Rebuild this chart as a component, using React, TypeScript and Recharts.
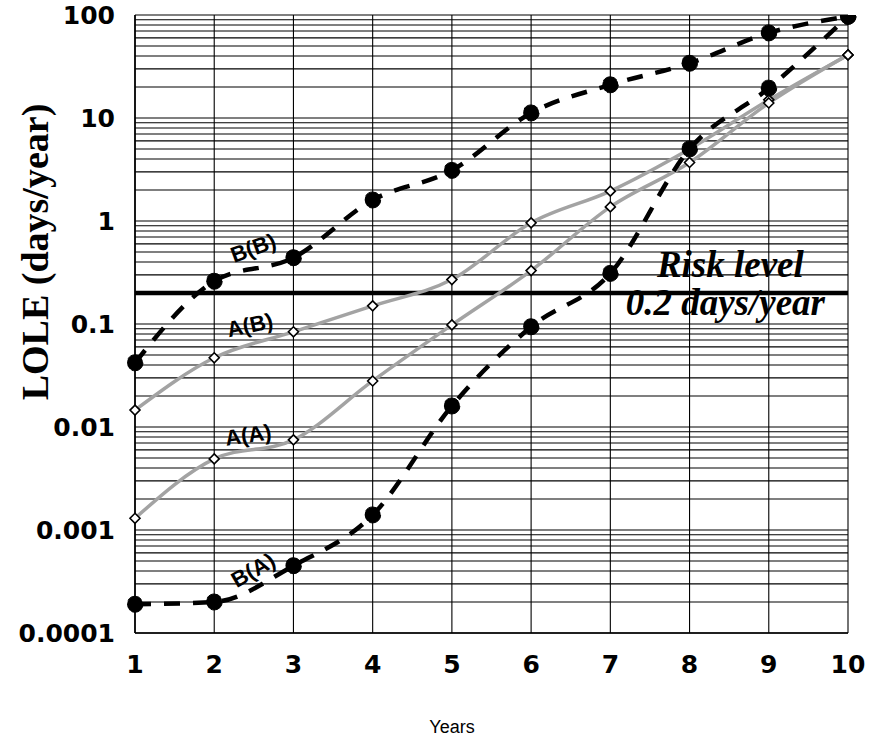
import React from 'react';
import {
  LineChart,
  Line,
  XAxis,
  YAxis,
  CartesianGrid,
  ReferenceLine,
  ReferenceDot,
} from 'recharts';

// years on the x axis
const years = [1, 2, 3, 4, 5, 6, 7, 8, 9, 10];

// LOLE (days/year) per scenario
const bbValues = [0.042, 0.26, 0.44, 1.6, 3.1, 11.2, 21, 34, 67, 97];
const baValues = [0.00019, 0.0002, 0.00045, 0.0014, 0.016, 0.094, 0.31, 5.0, 19.5, 97];
const abValues = [0.0146, 0.047, 0.084, 0.15, 0.27, 0.96, 1.95, 5.0, 15, 41];
const aaValues = [0.0013, 0.0049, 0.0075, 0.028, 0.098, 0.33, 1.37, 3.7, 14, 41];

const riskLevel = 0.2;

// log axis: labelled decades and minor grid multipliers
const decadeTicks = [0.0001, 0.001, 0.01, 0.1, 1, 10, 100];
const decadeLabels = ['0.0001', '0.001', '0.01', '0.1', '1', '10', '100'];
const minorSteps = [1, 2, 3, 4, 5, 6, 7, 8, 9];

const gridTicks = [
  ...decadeTicks.slice(0, -1).flatMap((d) => minorSteps.map((k) => k * d)),
  100,
];

// curve name labels: [name, year, value, angle]
const curveLabels: [string, number, number, number][] = [
  ['B(B)', 2.49, 0.55, -20],
  ['A(B)', 2.45, 0.098, -12],
  ['A(A)', 2.43, 0.0084, -8],
  ['B(A)', 2.49, 0.00041, -30],
];

const data = years.map((year, i) => ({
  year,
  bb: bbValues[i],
  ba: baValues[i],
  ab: abValues[i],
  aa: aaValues[i],
}));

const formatY = (v: number) => {
  const i = decadeTicks.findIndex((d) => Math.abs(Math.log10(v) - Math.log10(d)) < 1e-6);
  return i >= 0 ? decadeLabels[i] : '';
};

const Diamond = (props: any) => {
  const { cx, cy, index } = props;
  if (cx == null || cy == null) return <g key={`dd-${index}`} />;
  const s = 5;
  return (
    <path
      key={`d-${index}`}
      d={`M${cx},${cy - s}L${cx + s},${cy}L${cx},${cy + s}L${cx - s},${cy}Z`}
      fill="#fff"
      stroke="#000"
      strokeWidth={1.6}
    />
  );
};

const renderYLabel = (props: any) => {
  const { x, y } = props.viewBox;
  const cx = x + 38;
  const cy = y + 237;
  return (
    <text
      x={cx}
      y={cy}
      transform={`rotate(-90, ${cx}, ${cy})`}
      textAnchor="middle"
      fontFamily="'Liberation Serif', 'Times New Roman', serif"
      fontWeight="bold"
      fontSize={38}
      fill="#000"
    >
      LOLE (days/year)
    </text>
  );
};

const renderXLabel = (props: any) => {
  const { x, y } = props.viewBox;
  return (
    <text
      x={x + 317}
      y={y + 100}
      textAnchor="middle"
      fontFamily="'Liberation Sans', Arial, sans-serif"
      fontSize={18}
      fill="#000"
    >
      Years
    </text>
  );
};

const renderRiskLabel = (props: any) => {
  const { x, y, width } = props.viewBox;
  const style = {
    fontFamily: "'Liberation Serif', 'Times New Roman', serif",
    fontWeight: 'bold' as const,
    fontStyle: 'italic' as const,
    fontSize: 37,
    fill: '#000',
  };
  return (
    <g>
      <text x={x + width * 0.835} y={y - 16} textAnchor="middle" {...style}>
        Risk level
      </text>
      <text x={x + width * 0.828} y={y + 22} textAnchor="middle" {...style}>
        0.2 days/year
      </text>
    </g>
  );
};

const tickStyle = {
  fontFamily: "'DejaVu Sans', sans-serif",
  fontWeight: 'bold',
  fontSize: 25,
  fill: '#000',
};

export default function App() {
  return (
    <div style={{ position: 'absolute', left: 0, top: 0 }}>
      <LineChart
        width={870}
        height={743}
        data={data}
        margin={{ top: 15, right: 22, bottom: 20, left: 10 }}
      >
        <CartesianGrid stroke="#000" strokeWidth={1.1} />
        <XAxis
          dataKey="year"
          type="number"
          domain={[1, 10]}
          ticks={years}
          interval={0}
          tickLine={false}
          tickSize={6}
          tickMargin={16}
          axisLine={{ stroke: '#000', strokeWidth: 1.6 }}
          tick={tickStyle}
          height={90}
          label={{ content: renderXLabel }}
        />
        <YAxis
          type="number"
          scale="log"
          domain={[0.0001, 100]}
          allowDataOverflow
          ticks={gridTicks}
          interval={0}
          tickFormatter={formatY}
          tickLine={false}
          tickSize={6}
          tickMargin={14}
          axisLine={{ stroke: '#000', strokeWidth: 1.6 }}
          tick={tickStyle}
          width={125}
          label={{ content: renderYLabel }}
        />
        <ReferenceLine
          y={riskLevel}
          stroke="#000"
          strokeWidth={4.5}
          label={{ content: renderRiskLabel }}
        />
        <Line
          type="monotone"
          dataKey="ab"
          stroke="#a3a3a3"
          strokeWidth={3.5}
          dot={Diamond}
          isAnimationActive={false}
        />
        <Line
          type="monotone"
          dataKey="aa"
          stroke="#a3a3a3"
          strokeWidth={3.5}
          dot={Diamond}
          isAnimationActive={false}
        />
        <Line
          type="monotone"
          dataKey="bb"
          stroke="#000"
          strokeWidth={4.5}
          strokeDasharray="16 13"
          dot={{ r: 8, fill: '#000', stroke: '#000', strokeWidth: 1 }}
          isAnimationActive={false}
        />
        <Line
          type="monotone"
          dataKey="ba"
          stroke="#000"
          strokeWidth={4.5}
          strokeDasharray="16 13"
          dot={{ r: 8, fill: '#000', stroke: '#000', strokeWidth: 1 }}
          isAnimationActive={false}
        />
        {curveLabels.map(([name, x, y, angle]) => (
          <ReferenceDot
            key={name}
            x={x}
            y={y}
            r={0}
            stroke="none"
            fill="none"
            label={{
              value: name,
              position: 'center',
              angle,
              fontFamily: "'Liberation Sans', Arial, sans-serif",
              fontWeight: 'bold',
              fontSize: 22,
              fill: '#000',
            }}
          />
        ))}
      </LineChart>
    </div>
  );
}
